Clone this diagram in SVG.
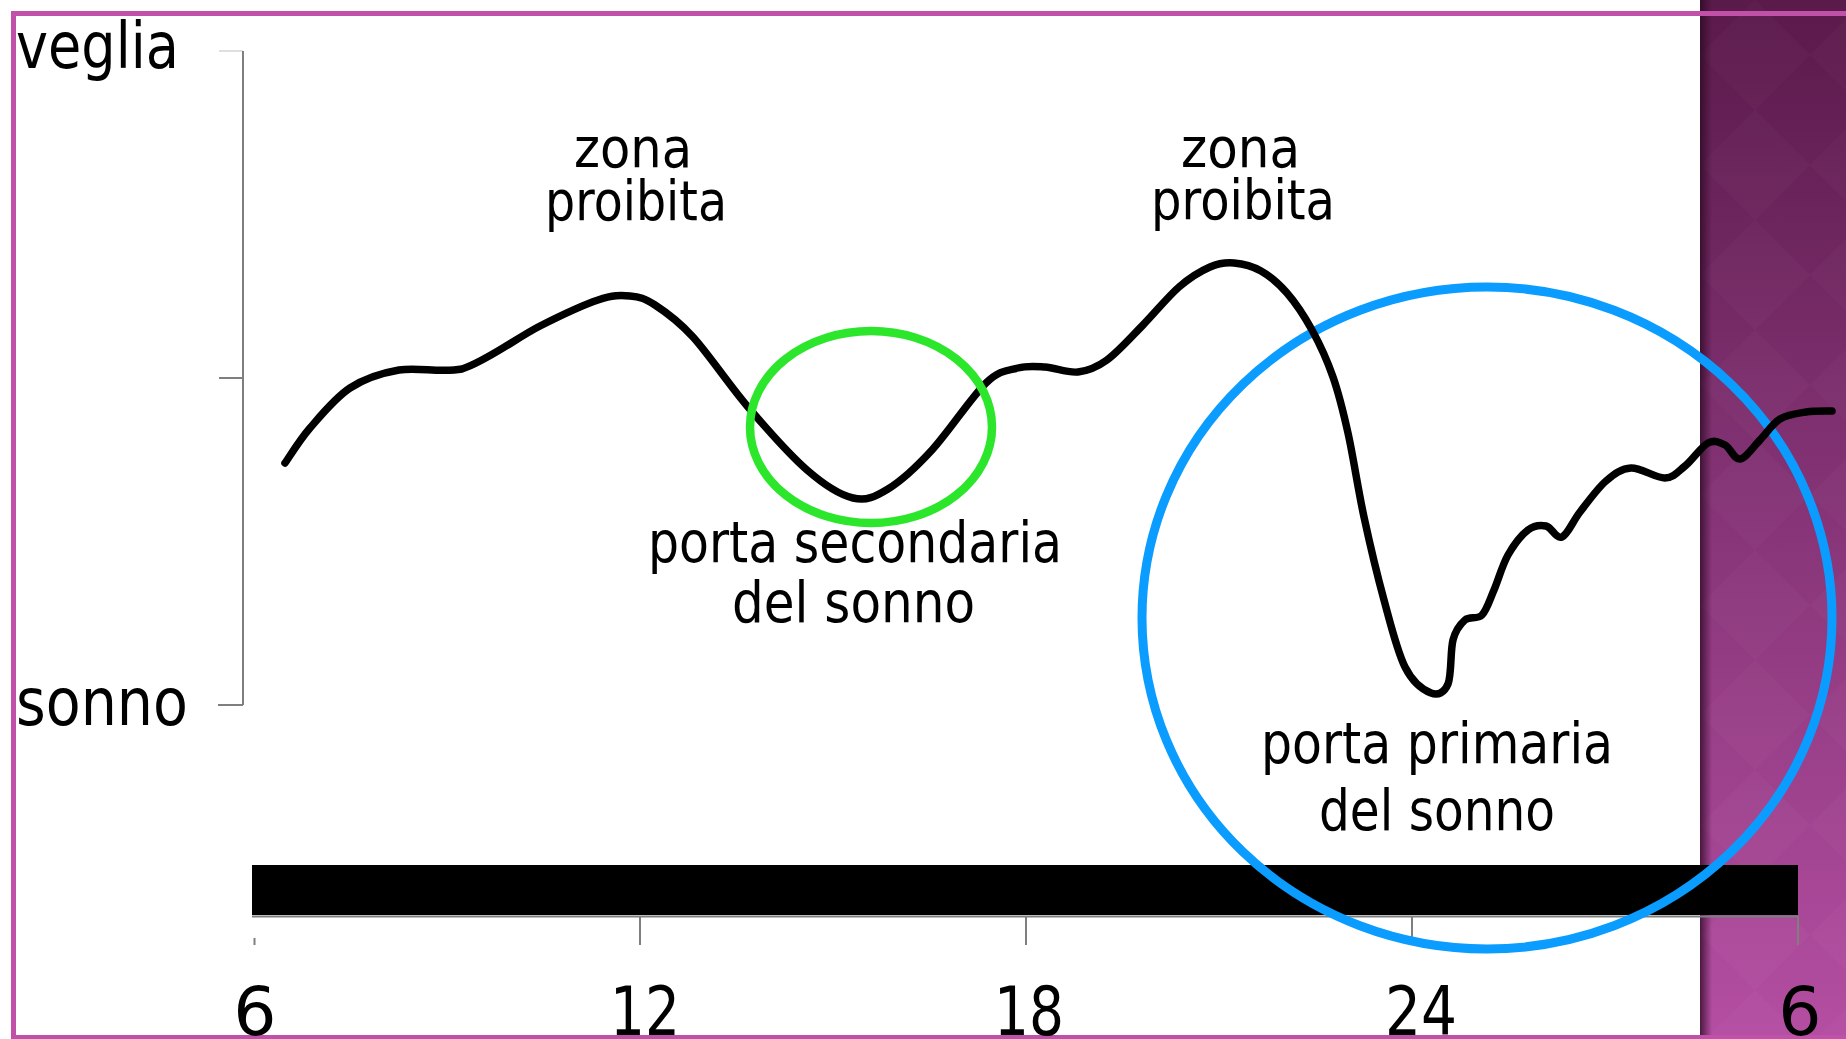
<svg xmlns="http://www.w3.org/2000/svg" width="1846" height="1039" viewBox="0 0 1846 1039">
<defs>
<linearGradient id="panelGrad" x1="0" y1="0" x2="0" y2="1">
<stop offset="0" stop-color="#5a1a4a"/>
<stop offset="0.45" stop-color="#823273"/>
<stop offset="1" stop-color="#b44ea2"/>
</linearGradient>
<linearGradient id="shadow" x1="0" y1="0" x2="1" y2="0">
<stop offset="0" stop-color="#2a0822" stop-opacity="0.75"/>
<stop offset="1" stop-color="#2a0822" stop-opacity="0"/>
</linearGradient>
<pattern id="diamonds" width="110" height="110" patternUnits="userSpaceOnUse" x="1700" y="0">
<path d="M55,0 L110,55 L55,110 L0,55 Z" fill="#ffffff" fill-opacity="0.018"/>
</pattern>
<style>
.lbl{font-family:"DejaVu Sans","Liberation Sans",sans-serif;fill:#000;}
.axis{stroke:#7f7f7f;stroke-width:2;fill:none;}
.border{stroke:#c150a9;stroke-width:5;fill:none;}
</style>
</defs>
<rect x="0" y="0" width="1846" height="1039" fill="#ffffff"/>
<g id="panel">
<rect x="1700" y="0" width="146" height="1039" fill="url(#panelGrad)"/>
<rect x="1700" y="0" width="146" height="1039" fill="url(#diamonds)"/>
<rect x="1700" y="0" width="12" height="1039" fill="url(#shadow)"/>
</g>
<g id="frame">
<line class="border" x1="11" y1="13.5" x2="1846" y2="13.5"/>
<line class="border" x1="13.5" y1="11" x2="13.5" y2="1039"/>
<line class="border" x1="11" y1="1037.5" x2="1846" y2="1037.5"/>
</g>
<g id="y-axis">
<line class="axis" x1="243" y1="51" x2="243" y2="705"/>
<line class="axis" x1="219" y1="51" x2="243" y2="51" stroke-opacity="0.25"/>
<line class="axis" x1="219" y1="378" x2="243" y2="378"/>
<line class="axis" x1="218" y1="705" x2="243" y2="705"/>
</g>
<g id="x-axis">
<line class="axis" x1="252" y1="916.5" x2="1798" y2="916.5"/>
<line class="axis" x1="254.5" y1="938" x2="254.5" y2="945"/>
<line class="axis" x1="640" y1="916" x2="640" y2="945"/>
<line class="axis" x1="1026" y1="916" x2="1026" y2="945"/>
<line class="axis" x1="1412" y1="916" x2="1412" y2="945"/>
<line class="axis" x1="1798" y1="916" x2="1798" y2="945"/>
<rect id="bar" x="252" y="865" width="1546" height="50" fill="#000000"/>
</g>
<g id="primary-gate-circle">
<ellipse cx="1487" cy="618" rx="345" ry="331" fill="none" stroke="#0a9cff" stroke-width="9"/>
</g>
<g id="connectors">
<path id="curve" d="M285,463 C289.2,457.2 299.2,440.5 310,428 C320.8,415.5 335.2,397.7 350,388 C364.8,378.3 380.3,373.2 399,370 C417.7,366.8 440,373 462,369 C485.5,361.7 517.3,337.5 540,326 C562.7,314.5 583,305 598,300 C613,295 620.5,295.2 630,296 C639.5,296.8 644.5,298.2 655,305 C665.5,311.8 677.5,320 693,337 C708.5,354 729,384.8 748,407 C767,429.2 789.5,454.8 807,470 C824.5,485.2 839.5,494.8 853,498 C866.5,501.2 874.8,497 888,489 C901.2,481 915.7,467.7 932,450 C948.3,432.3 971.7,396.7 986,383 C1000.3,369.3 1008.2,370.7 1018,368 C1027.8,365.3 1035,366.3 1045,367 C1055,367.7 1067.7,373.2 1078,372 C1088.3,370.8 1096.2,367.8 1107,360 C1117.8,352.2 1131,337.2 1143,325 C1155,312.8 1167.8,296.7 1179,287 C1190.2,277.3 1200.8,271 1210,267 C1219.2,263 1225.5,262.3 1234,263 C1242.5,263.7 1252.2,266 1261,271 C1269.8,276 1278.5,283.2 1287,293 C1295.5,302.8 1304.3,316 1312,330 C1319.7,344 1327,359.8 1333,377 C1339,394.2 1342.8,409.7 1348,433 C1353.2,456.3 1358,489.2 1364,517 C1370,544.8 1377.2,575 1384,600 C1390.8,625 1397.2,651.5 1405,667 C1412.8,682.5 1423.8,690.2 1431,693 C1438.2,695.8 1444.3,692.8 1448,684 C1451.7,675.2 1450.2,650.7 1453,640 C1455.8,629.3 1460.2,624.2 1465,620 C1469.8,615.8 1477.2,620 1482,615 C1486.8,610 1489.7,600 1494,590 C1498.3,580 1502.3,565 1508,555 C1513.7,545 1521.7,534.8 1528,530 C1534.3,525.2 1540.3,524.8 1546,526 C1551.7,527.2 1556.3,539.3 1562,537 C1567.7,534.7 1572.7,521.3 1580,512 C1587.3,502.7 1597.5,488.3 1606,481 C1614.5,473.7 1621.2,468.5 1631,468 C1640.8,467.5 1656,478.3 1665,478 C1674,477.7 1677.8,471.8 1685,466 C1692.2,460.2 1701.3,446.5 1708,443 C1714.7,439.5 1719.7,442.3 1725,445 C1730.3,447.7 1734.2,459.8 1740,459 C1745.8,458.2 1753.3,446.7 1760,440 C1766.7,433.3 1772.3,423.7 1780,419 C1787.7,414.3 1797.3,413.3 1806,412 C1814.7,410.7 1827.7,411.2 1832,411" fill="none" stroke="#000000" stroke-width="7.5" stroke-linecap="round" stroke-linejoin="round"/>
</g>
<g id="secondary-gate-circle">
<ellipse cx="871" cy="427" rx="121" ry="96" fill="none" stroke="#2be62b" stroke-width="8.5"/>
</g>
<g id="label-veglia"><text class="lbl" x="16" y="68" font-size="64" textLength="163" lengthAdjust="spacingAndGlyphs">veglia</text></g>
<g id="label-sonno"><text class="lbl" x="16" y="725" font-size="66" textLength="172" lengthAdjust="spacingAndGlyphs">sonno</text></g>
<g id="label-zona1">
<text class="lbl" x="574" y="167" font-size="55" textLength="118" lengthAdjust="spacingAndGlyphs">zona</text>
<text class="lbl" x="545" y="220" font-size="55" textLength="182" lengthAdjust="spacingAndGlyphs">proibita</text>
</g>
<g id="label-zona2">
<text class="lbl" x="1181" y="167" font-size="55" textLength="119" lengthAdjust="spacingAndGlyphs">zona</text>
<text class="lbl" x="1151" y="219" font-size="55" textLength="184" lengthAdjust="spacingAndGlyphs">proibita</text>
</g>
<g id="label-secondaria">
<text class="lbl" x="648" y="562" font-size="57" textLength="414" lengthAdjust="spacingAndGlyphs">porta secondaria</text>
<text class="lbl" x="732" y="622" font-size="57" textLength="243" lengthAdjust="spacingAndGlyphs">del sonno</text>
</g>
<g id="label-primaria">
<text class="lbl" x="1261" y="763" font-size="57" textLength="352" lengthAdjust="spacingAndGlyphs">porta primaria</text>
<text class="lbl" x="1319" y="830" font-size="57" textLength="236" lengthAdjust="spacingAndGlyphs">del sonno</text>
</g>
<g id="tick-labels">
<text class="lbl" x="255" y="1035" font-size="68" text-anchor="middle">6</text>
<text class="lbl" x="610" y="1035" font-size="68" textLength="70" lengthAdjust="spacingAndGlyphs">12</text>
<text class="lbl" x="994" y="1035" font-size="68" textLength="70" lengthAdjust="spacingAndGlyphs">18</text>
<text class="lbl" x="1385" y="1035" font-size="68" textLength="72" lengthAdjust="spacingAndGlyphs">24</text>
<text class="lbl" x="1800" y="1035" font-size="68" text-anchor="middle">6</text>
</g>
</svg>
